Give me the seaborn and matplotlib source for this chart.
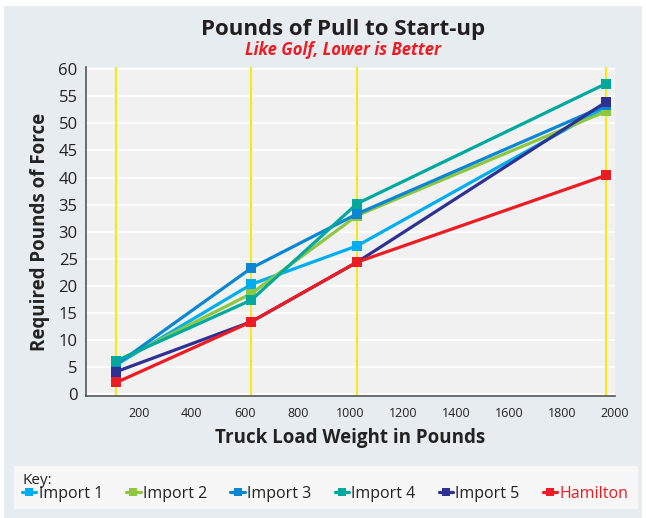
import matplotlib
matplotlib.use("Agg")
import matplotlib.pyplot as plt
from matplotlib.patches import Rectangle
import pandas as pd
import seaborn as sns

# data
load_lbs = [115, 625, 1025, 1965]
series_names = ["Import 1", "Import 2", "Import 3", "Import 4", "Import 5", "Hamilton"]
import_1 = [5.5, 20.3, 27.4, 53.0]
import_2 = [6.0, 18.6, 33.0, 52.2]
import_3 = [5.5, 23.3, 33.3, 53.3]
import_4 = [6.2, 17.4, 35.2, 57.3]
import_5 = [4.2, 13.4, 24.4, 53.9]
hamilton = [2.2, 13.4, 24.4, 40.4]
series_colors = ["#00aeef", "#8dc63f", "#0a86d2", "#00a99d", "#2e3192", "#ed1c24"]
x_ticks = [0, 200, 400, 600, 800, 1000, 1200, 1400, 1600, 1800, 2000]
x_tick_labels = [""] + [str(t) for t in x_ticks[1:]]
y_ticks = list(range(0, 61, 5))

df = pd.DataFrame({
    "load": load_lbs * 6,
    "force": import_1 + import_2 + import_3 + import_4 + import_5 + hamilton,
    "series": [n for n in series_names for _ in load_lbs],
})

sns.set_style("white")
plt.rcParams["font.family"] = ["Open Sans", "DejaVu Sans"]

fig = plt.figure(figsize=(6.46, 5.18), dpi=100, facecolor="white")
W, H = 646, 518
# outer panel and key panel, kept behind the axes
fig.patches.append(Rectangle((4 / W, 0), 638 / W, 512 / H, transform=fig.transFigure,
                             facecolor="#e6ecef", edgecolor="none", zorder=-10))
fig.patches.append(Rectangle((14 / W, 1 - 509 / H), 624 / W, 43 / H, transform=fig.transFigure,
                             facecolor="#f7f7f7", edgecolor="none", zorder=-9))

ax = fig.add_axes([86 / W, 1 - 396 / H, 529 / W, 329 / H])
ax.set_facecolor("#f1f1f1")

for x in load_lbs:
    ax.axvline(x, color="#f7e81a", lw=1.5, zorder=1)
for y in y_ticks:
    ax.axhline(y, color="white", lw=1.3, zorder=0.5)

for name, color in zip(series_names, series_colors):
    sub = df[df["series"] == name]
    sns.lineplot(data=sub, x="load", y="force", color=color, marker="s", markersize=7.5,
                 markeredgewidth=0, linewidth=2.3, label=name, ax=ax, zorder=3)

ax.set_xlim(0, 2000)
ax.set_ylim(-0.3, 60.4)
ax.set_xticks(x_ticks)
ax.set_xticklabels(x_tick_labels, fontsize=9, color="#222222")
ax.set_yticks(y_ticks)
ax.set_yticklabels([str(t) for t in y_ticks], fontsize=12, color="#222222")
ax.tick_params(axis="x", direction="out", length=5, width=1, color="#555555", pad=3)
ax.tick_params(axis="y", direction="out", length=3, width=1, color="#555555", pad=3)
for side in ["top", "right"]:
    ax.spines[side].set_visible(False)
for side in ["left", "bottom"]:
    ax.spines[side].set_color("#555555")
    ax.spines[side].set_linewidth(1.2)

ax.set_xlabel("Truck Load Weight in Pounds", fontsize=13.5, fontweight="bold", color="#222222", labelpad=6)
ax.set_ylabel("Required Pounds of Force", fontsize=13.5, fontweight="bold", color="#222222", labelpad=6)

fig.text(343 / W, 1 - 30 / H, "Pounds of Pull to Start-up", ha="center", va="center",
         fontsize=16, fontweight="bold", color="#231f20")
fig.text(343 / W, 1 - 50 / H, "Like Golf, Lower is Better", ha="center", va="center",
         fontsize=12, fontweight="bold", style="italic", color="#ed1c24")

handles, labels = ax.get_legend_handles_labels()
ax.get_legend().remove()
fig.text(22 / W, 1 - 480 / H, "Key:", ha="left", va="center", fontsize=11, color="#222222")
leg = fig.legend(handles, labels, loc="center left", bbox_to_anchor=(22 / W, 1 - 494 / H),
                 ncol=6, frameon=False, fontsize=11.5, handlelength=0.9, handletextpad=0.15,
                 columnspacing=1.45, borderpad=0, borderaxespad=0, markerscale=0.8)
for txt in leg.get_texts():
    txt.set_color("#222222")
leg.get_texts()[-1].set_color("#ed1c24")

fig.savefig("out.png", dpi=100, facecolor=fig.get_facecolor())
